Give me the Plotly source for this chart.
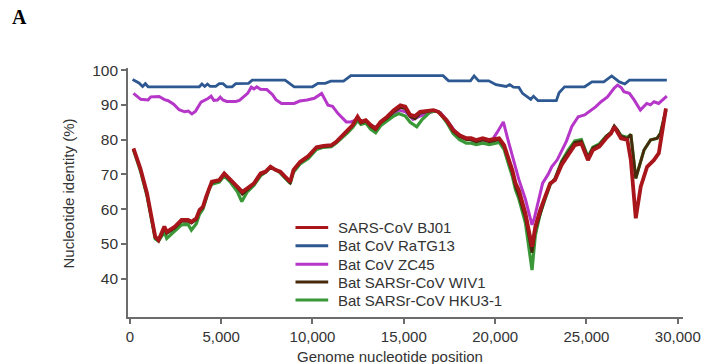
import plotly.graph_objects as go

# ---------------- data: sliding-window nucleotide identity vs. 2019-nCoV ----------------
series_names = [
    "SARS-CoV BJ01",
    "Bat CoV RaTG13",
    "Bat CoV ZC45",
    "Bat SARSr-CoV WIV1",
    "Bat SARSr-CoV HKU3-1",
]

ratg13_pos = [150, 500, 700, 850, 1000, 3800, 3950, 4100, 4250, 4400, 4700, 4900, 5100, 5300,
              5600, 5800, 6500, 6700, 8500, 9000, 10000, 10300, 10700, 11000, 11700, 12100,
              17150, 17450, 18650, 18850, 19100, 19650, 20050, 20600, 20800, 21000, 21300,
              21500, 21950, 22100, 22350, 23350, 23500, 23800, 24900, 25300, 25950, 26380,
              26800, 27100, 27350, 29400]
ratg13_id = [97.3, 96.3, 95.3, 96.1, 95.2, 95.2, 96.0, 95.3, 96.0, 95.3, 95.3, 96.1, 96.1, 95.2,
             95.2, 96.1, 96.2, 97.1, 97.1, 95.2, 95.2, 96.2, 96.2, 96.8, 96.8, 98.4,
             98.4, 96.9, 96.9, 98.3, 96.9, 96.9, 95.8, 95.3, 95.8, 95.1, 95.0,
             93.3, 91.6, 92.5, 91.2, 91.2, 93.5, 95.2, 95.2, 96.6, 96.6, 98.3,
             96.6, 96.0, 97.1, 97.1]

zc45_pos = [200, 600, 1000, 1150, 1600, 1900, 2100, 2400, 2700, 3000, 3200, 3400, 3600, 3900,
            4300, 4450, 4600, 4800, 4950, 5100, 5300, 5800, 6000, 6200, 6450, 6650, 6800, 6950,
            7150, 7500, 7800, 8000, 8300, 9000, 9300, 9700, 10100, 10500, 10850, 11100, 11400,
            11850, 12100, 12400, 12700, 13000, 13400, 13800, 14200, 14700, 15100, 15500, 15900,
            16300, 16700, 17000, 17400, 17800, 18200, 18600, 19000, 19400, 19800, 20100, 20450,
            20700, 21000, 21300, 21650, 21900, 22020, 22150, 22400, 22600, 22900, 23100, 23400,
            23650, 23900, 24200, 24550, 24900, 25250, 25500, 25800, 26150, 26500, 26700, 26900,
            27050, 27350, 27600, 27950, 28300, 28500, 28700, 28950, 29150, 29400]
zc45_id = [93.3, 91.6, 91.4, 92.3, 92.4, 91.5, 91.2, 90.2, 88.6, 88.0, 88.2, 87.4, 88.2, 90.8,
           91.9, 92.5, 91.3, 91.4, 92.2, 91.4, 91.0, 91.0, 91.3, 92.2, 93.3, 95.1, 94.6, 95.2,
           94.5, 94.4, 93.0, 91.5, 90.4, 90.4, 91.1, 91.4, 91.9, 93.3, 89.9, 89.6, 87.5,
           85.1, 85.1, 85.7, 84.6, 85.0, 83.5, 84.5, 86.2, 88.5, 88.0, 85.8, 86.8,
           87.5, 88.3, 87.8, 85.3, 82.4, 80.8, 80.0, 79.4, 80.0, 79.6, 82.0, 85.1,
           80.0, 74.5, 68.5, 63.0, 58.0, 55.5, 57.5, 63.5, 67.5, 70.0, 72.2, 74.2,
           77.0, 79.5, 83.8, 86.6, 87.1, 88.5, 89.4, 90.9, 92.3, 94.7, 95.7, 95.0,
           93.8, 93.3, 91.5, 88.5, 90.4, 90.0, 90.9, 90.4, 91.3, 92.5]

bj01_pos = [200, 580, 940, 1210, 1390, 1570, 1750, 1890, 2020, 2200, 2470, 2830, 3190, 3370,
            3640, 3820, 4000, 4180, 4360, 4490, 4900, 5170, 5530, 5890, 6160, 6430, 6790, 7160,
            7430, 7700, 7970, 8240, 8510, 8780, 8960, 9320, 9770, 10220, 10600, 11030, 11300,
            11660, 11930, 12200, 12470, 12650, 12920, 13190, 13460, 13730, 14090, 14450, 14810,
            15080, 15350, 15620, 15890, 16250, 16620, 16890, 17340, 17700, 18050, 18420, 18690,
            18960, 19320, 19680, 20220, 20490, 20760, 20940, 21120, 21300, 21660, 21930, 22020,
            22200, 22470, 22740, 23010, 23280, 23640, 24000, 24360, 24720, 25080, 25350, 25710,
            26080, 26350, 26520, 26700, 26890, 27240, 27430, 27700, 27970, 28320, 28690, 28960,
            29140, 29350]
bj01_id = [77.5, 71.7, 64.6, 56.9, 52.1, 51.1, 53.1, 55.0, 53.5, 54.0, 55.0, 56.9, 56.9, 56.4,
           57.4, 59.8, 60.7, 63.6, 66.5, 67.9, 68.4, 70.3, 68.4, 66.5, 65.0, 66.0, 67.4, 70.3,
           70.8, 72.2, 71.3, 70.8, 69.3, 67.9, 71.3, 73.6, 75.3, 77.8, 78.2, 78.4, 79.4,
           81.3, 82.8, 84.2, 86.6, 85.1, 85.6, 84.2, 83.2, 85.1, 86.6, 88.5, 89.9,
           89.5, 87.1, 86.8, 88.0, 88.2, 88.5, 88.0, 85.6, 82.8, 81.3, 80.4, 80.4,
           79.9, 80.4, 79.9, 80.4, 78.4, 74.1, 71.3, 67.4, 65.5, 58.8, 51.1, 49.2,
           55.0, 59.8, 63.6, 67.4, 68.4, 72.7, 75.6, 78.4, 78.9, 74.1, 77.0, 78.0,
           80.4, 81.8, 83.7, 82.3, 80.4, 79.9, 74.1, 57.4, 66.5, 72.2, 74.1, 76.1,
           81.8, 89.0]

wiv1_pos = [200, 580, 940, 1210, 1390, 1570, 1750, 1890, 2020, 2200, 2470, 2830, 3190, 3370,
            3640, 3820, 4000, 4180, 4360, 4490, 4900, 5170, 5530, 5890, 6160, 6430, 6790, 7160,
            7430, 7700, 7970, 8240, 8510, 8780, 8960, 9320, 9770, 10220, 10600, 11030, 11300,
            11660, 11930, 12200, 12470, 12650, 12920, 13190, 13460, 13730, 14090, 14450, 14810,
            15080, 15350, 15620, 15890, 16250, 16620, 16890, 17340, 17700, 18050, 18420, 18690,
            18960, 19320, 19680, 20220, 20490, 20760, 20940, 21120, 21300, 21660, 21930, 22020,
            22200, 22470, 22740, 23010, 23280, 23640, 24000, 24360, 24720, 25080, 25350, 25710,
            26080, 26350, 26520, 26700, 26890, 27240, 27430, 27700, 28150, 28510, 28870, 29050,
            29350]
wiv1_id = [77.3, 71.5, 64.2, 56.5, 51.8, 51.0, 52.6, 54.6, 53.0, 53.6, 54.6, 56.5, 56.6, 56.0,
           57.0, 59.5, 60.4, 63.3, 66.3, 67.6, 68.2, 70.0, 68.2, 66.2, 64.3, 65.6, 67.2, 70.0,
           70.6, 72.0, 71.2, 70.6, 69.0, 67.6, 71.0, 73.4, 75.0, 77.6, 78.0, 78.2, 79.2,
           81.0, 82.5, 84.0, 86.3, 84.8, 85.3, 83.8, 82.8, 84.8, 86.2, 88.0, 89.3,
           88.9, 86.6, 86.0, 87.6, 88.0, 88.4, 88.0, 85.4, 82.4, 80.9, 80.0, 80.0,
           79.4, 79.9, 79.4, 80.0, 78.0, 73.5, 70.5, 66.5, 64.0, 57.5, 49.5, 47.5,
           54.0, 59.0, 63.3, 67.2, 68.8, 73.5, 76.5, 79.2, 79.6, 74.8, 77.6, 78.5,
           80.9, 82.2, 84.0, 82.8, 81.0, 80.3, 81.5, 68.9, 77.0, 79.9, 80.4, 81.8,
           88.5]

hku3_pos = [200, 580, 940, 1210, 1390, 1570, 1750, 1890, 2020, 2200, 2470, 2830, 3190, 3370,
            3640, 3820, 4000, 4180, 4360, 4490, 4900, 5170, 5530, 5890, 6130, 6430, 6790, 7160,
            7430, 7700, 7970, 8240, 8510, 8780, 8960, 9320, 9770, 10220, 10600, 11030, 11300,
            11660, 11930, 12200, 12470, 12650, 12920, 13190, 13460, 13730, 14090, 14450, 14720,
            15080, 15350, 15710, 16000, 16450, 16750, 16950, 17340, 17700, 18050, 18420, 18690,
            18960, 19320, 19680, 20220, 20490, 20760, 20940, 21120, 21300, 21660, 21930, 22020,
            22200, 22470, 22740, 23010, 23280, 23640, 24000, 24360, 24720, 25080, 25350, 25710,
            26080, 26350, 26520, 26700, 26890, 27240, 27430, 27700, 28150, 28510, 28870, 29050,
            29350]
hku3_id = [77.0, 71.0, 63.8, 56.0, 51.5, 50.8, 52.5, 53.5, 51.6, 52.5, 53.8, 55.5, 55.6, 54.0,
           55.8, 58.6, 60.0, 62.8, 66.0, 67.2, 67.8, 69.6, 67.6, 65.0, 62.2, 65.0, 66.8, 69.6,
           70.6, 72.0, 71.4, 70.4, 68.8, 67.4, 70.6, 73.0, 74.6, 77.2, 77.8, 78.0, 79.0,
           80.6, 82.0, 83.5, 85.5, 84.4, 84.8, 83.0, 82.0, 84.0, 85.4, 86.8, 87.5,
           86.8, 85.0, 83.7, 85.8, 88.0, 88.2, 87.8, 85.0, 81.8, 80.0, 79.0, 79.0,
           78.6, 79.0, 78.6, 79.2, 77.2, 72.5, 69.5, 65.5, 63.0, 56.0, 46.0, 42.5,
           52.5, 58.8, 63.0, 67.0, 68.8, 73.8, 77.0, 79.6, 80.0, 75.0, 77.8, 78.8,
           81.0, 82.0, 83.5, 82.6, 81.2, 80.6, 81.5, 68.9, 77.0, 79.9, 80.4, 81.8,
           88.5]

y_ticks = [40, 50, 60, 70, 80, 90, 100]
x_ticks = [0, 5000, 10000, 15000, 20000, 25000, 30000]
x_tick_text = ["0", "5,000", "10,000", "15,000", "20,000", "25,000", "30,000"]

colors = {
    "SARS-CoV BJ01": "#a8161b",
    "Bat CoV RaTG13": "#2d5892",
    "Bat CoV ZC45": "#b536c8",
    "Bat SARSr-CoV WIV1": "#472a0c",
    "Bat SARSr-CoV HKU3-1": "#3b9838",
}
widths = {
    "SARS-CoV BJ01": 3.8,
    "Bat CoV RaTG13": 2.8,
    "Bat CoV ZC45": 3.0,
    "Bat SARSr-CoV WIV1": 2.8,
    "Bat SARSr-CoV HKU3-1": 3.2,
}

curves = {
    "SARS-CoV BJ01": (bj01_pos, bj01_id),
    "Bat CoV RaTG13": (ratg13_pos, ratg13_id),
    "Bat CoV ZC45": (zc45_pos, zc45_id),
    "Bat SARSr-CoV WIV1": (wiv1_pos, wiv1_id),
    "Bat SARSr-CoV HKU3-1": (hku3_pos, hku3_id),
}

# drawing order: red reference strain on top
draw_order = ["Bat CoV ZC45", "Bat CoV RaTG13", "Bat SARSr-CoV HKU3-1",
              "Bat SARSr-CoV WIV1", "SARS-CoV BJ01"]

fig = go.Figure()
for name in draw_order:
    xs, ys = curves[name]
    fig.add_trace(go.Scatter(
        x=xs, y=ys, mode="lines", name=name, showlegend=False,
        line=dict(color=colors[name], width=widths[name]),
    ))

# ---------------- layout ----------------
W_PX, H_PX = 713, 364
ML, MR, MT, MB = 128, 25, 68, 47
PW, PH = W_PX - ML - MR, H_PX - MT - MB


def paper_x(px):
    return (px - ML) / PW


def paper_y(py):
    return (H_PX - MB - py) / PH


axis_col = "#6c6c6c"
text_col = "#333333"
font_main = "Liberation Sans, Arial, sans-serif"

fig.update_layout(
    width=W_PX, height=H_PX,
    margin=dict(l=ML, r=MR, t=MT, b=MB),
    paper_bgcolor="white", plot_bgcolor="white",
    font=dict(family=font_main, color=text_col, size=15),
    showlegend=False,
    xaxis=dict(
        range=[-100, 30285], showgrid=False, zeroline=False,
        showline=True, linecolor=axis_col, linewidth=1.6,
        ticks="outside", ticklen=5, tickwidth=1.6, tickcolor=axis_col,
        tickvals=x_ticks, ticktext=x_tick_text,
        tickfont=dict(size=15, color=text_col),
    ),
    yaxis=dict(
        range=[29, 100.6], showgrid=False, zeroline=False,
        showline=True, linecolor=axis_col, linewidth=1.6,
        ticks="outside", ticklen=5, tickwidth=1.6, tickcolor=axis_col,
        tickvals=y_ticks, tickfont=dict(size=15.5, color=text_col),
    ),
)

annotations = [
    dict(text="<b>A</b>", x=paper_x(9), y=paper_y(17), xref="paper", yref="paper",
         xanchor="left", yanchor="middle", showarrow=False,
         font=dict(family="Liberation Serif, Times New Roman, serif", size=20, color="black"),
         ),
    dict(text="Genome nucleotide position", x=paper_x(392), y=paper_y(367),
         xref="paper", yref="paper", xanchor="center", yanchor="bottom",
         showarrow=False, font=dict(size=15, color=text_col)),
    dict(text="Nucleotide identity (%)", x=paper_x(67), y=paper_y(194),
         xref="paper", yref="paper", xanchor="center", yanchor="middle",
         textangle=-90, showarrow=False, font=dict(size=15, color=text_col)),
]

# legend block: line swatch + label per series
legend_rows = [227.5, 245.8, 264.2, 282.0, 300.0]
shapes = []
for name, row in zip(series_names, legend_rows):
    shapes.append(dict(type="line", xref="paper", yref="paper",
                       x0=paper_x(297), x1=paper_x(330), y0=paper_y(row), y1=paper_y(row),
                       line=dict(color=colors[name], width=3)))
    annotations.append(dict(text=name, x=paper_x(338), y=paper_y(row),
                            xref="paper", yref="paper", xanchor="left", yanchor="middle",
                            showarrow=False, font=dict(size=15, color=text_col)))

fig.update_layout(annotations=annotations, shapes=shapes)

fig.write_html("out.html")
